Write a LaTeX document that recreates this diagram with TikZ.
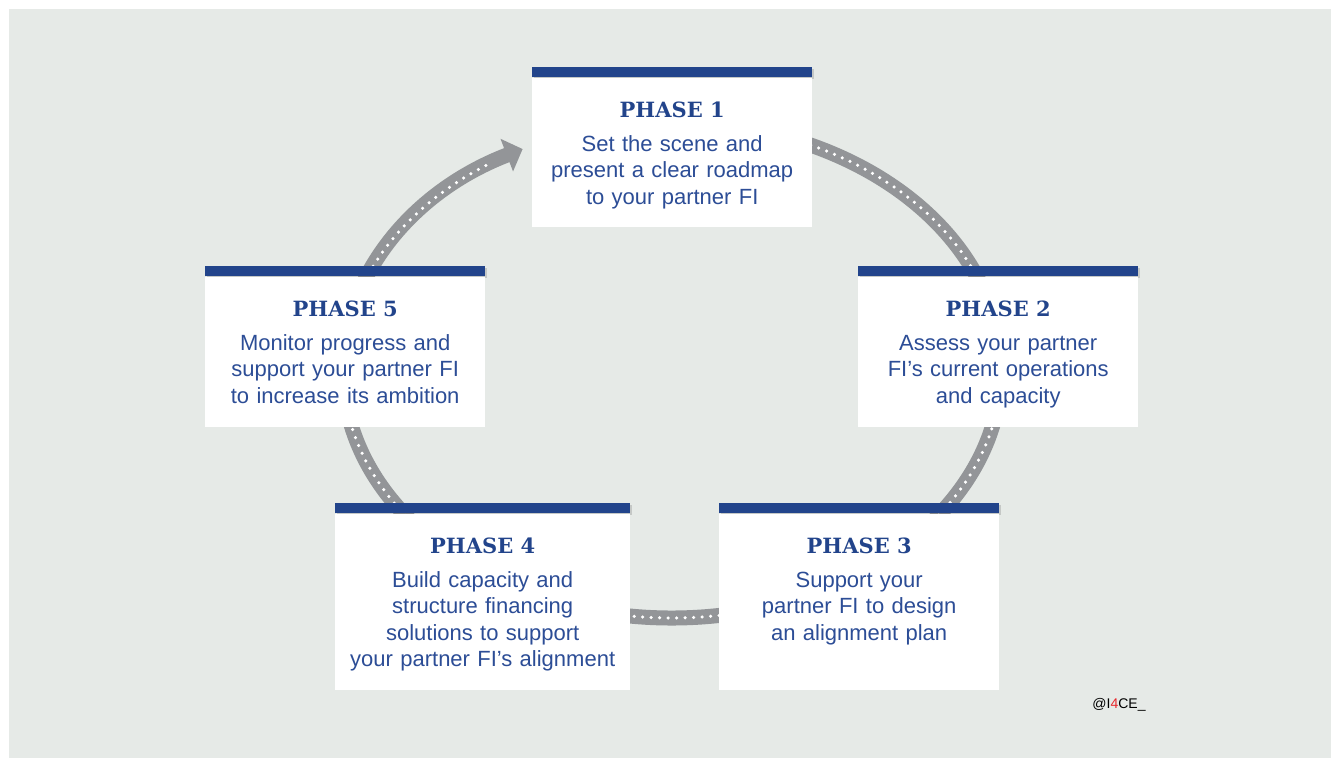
\documentclass[tikz,border=0pt]{standalone}
\usepackage{fontspec}
\setmainfont{Liberation Sans}
\newfontfamily\slabfont{DejaVu Serif}
\usetikzlibrary{arrows.meta,shadows}
\definecolor{panelgrey}{HTML}{E6EAE7}
\definecolor{roadgrey}{HTML}{939598}
\definecolor{barblue}{HTML}{22448B}
\definecolor{textblue}{HTML}{2C4D96}
\definecolor{logored}{HTML}{E8262B}
\tikzset{
  phasebar/.style={fill=barblue, draw=none, inner sep=0pt, minimum height=10pt, anchor=north west,
    drop shadow={shadow xshift=1.5pt, shadow yshift=-1.5pt, opacity=.25, fill=black!60}},
  phasecard/.style={fill=white, draw=none, inner sep=0pt, anchor=north west},
  phasetitle/.style={anchor=base, inner sep=0pt, text=barblue, font=\slabfont\bfseries\fontsize{21}{21}\selectfont},
  phasetext/.style={anchor=base, inner sep=0pt, text width=290pt, align=center, text=textblue, font=\fontsize{22}{26.5}\selectfont},
}
\begin{document}
\begin{tikzpicture}[x=1pt, y=-1pt]
        \useasboundingbox (0, 0) rectangle (1331, 758);
        \fill[white] (0, 0) rectangle (1331, 758);
        \fill[panelgrey] (9, 9) rectangle (1331, 758);
        \coordinate (hub) at (672, 370);

        %%road round the phases
          \draw[roadgrey, line width=15pt, -{Triangle[length=17pt, width=34pt]}]
            (hub) ++(-95:329 and 248) arc[start angle=-95, end angle=243, x radius=329, y radius=248];
          \draw[white, line width=3.5pt, line cap=round, dash pattern=on 0pt off 8.5pt]
            (hub) ++(-95:329 and 248) arc[start angle=-95, end angle=236, x radius=329, y radius=248];

        %%p1
          \node[phasebar, minimum width=280pt] (bar1) at (532, 67) {};
          \node[phasecard, minimum width=280pt, minimum height=149pt] (card1) at (bar1.south west) {};
          \node[phasetitle] (title1) at ([yshift=-40.5pt]bar1.south) {PHASE 1};
          \node[phasetext] (text1) at ([yshift=-33.5pt]title1.base) {Set the scene and\\present a clear roadmap\\to your partner FI};
        %%p2
          \node[phasebar, minimum width=280pt] (bar2) at (858, 266) {};
          \node[phasecard, minimum width=280pt, minimum height=150pt] (card2) at (bar2.south west) {};
          \node[phasetitle] (title2) at ([yshift=-40.5pt]bar2.south) {PHASE 2};
          \node[phasetext] (text2) at ([yshift=-33.5pt]title2.base) {Assess your partner\\FI’s current operations\\and capacity};
        %%p3
          \node[phasebar, minimum width=280pt] (bar3) at (719, 503) {};
          \node[phasecard, minimum width=280pt, minimum height=176pt] (card3) at (bar3.south west) {};
          \node[phasetitle] (title3) at ([yshift=-40.5pt]bar3.south) {PHASE 3};
          \node[phasetext] (text3) at ([yshift=-33.5pt]title3.base) {Support your\\partner FI to design\\an alignment plan};
        %%p4
          \node[phasebar, minimum width=295pt] (bar4) at (335, 503) {};
          \node[phasecard, minimum width=295pt, minimum height=176pt] (card4) at (bar4.south west) {};
          \node[phasetitle] (title4) at ([yshift=-40.5pt]bar4.south) {PHASE 4};
          \node[phasetext] (text4) at ([yshift=-33.5pt]title4.base) {Build capacity and\\structure financing\\solutions to support\\your partner FI’s alignment};
        %%p5
          \node[phasebar, minimum width=280pt] (bar5) at (205, 266) {};
          \node[phasecard, minimum width=280pt, minimum height=150pt] (card5) at (bar5.south west) {};
          \node[phasetitle] (title5) at ([yshift=-40.5pt]bar5.south) {PHASE 5};
          \node[phasetext] (text5) at ([yshift=-33.5pt]title5.base) {Monitor progress and\\support your partner FI\\to increase its ambition};

        %%signature
          \node[anchor=base, inner sep=0pt, font=\fontsize{14}{14}\selectfont] (logo) at (1119, 708) {@I\textcolor{logored}{4}CE\_};
      \end{tikzpicture}
\end{document}
